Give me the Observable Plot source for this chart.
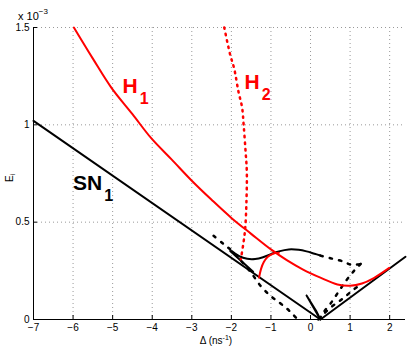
<!DOCTYPE html>
<html><head><meta charset="utf-8">
<script src="https://cdn.jsdelivr.net/npm/d3@7"></script>
<script src="https://cdn.jsdelivr.net/npm/@observablehq/plot@0.6"></script>
<style>html,body{margin:0;padding:0;background:#fff}svg{display:block}</style>
</head><body><div id="chart"></div>
<script>
// ticks
const xTicks = [-7, -6, -5, -4, -3, -2, -1, 0, 1, 2];
const yTicks = [0, 0.5, 1, 1.5];
// curves (Delta in ns^-1, E_i in units of 1e-3)
const sn1 = [[-7, 1.02], [0.25, 0], [2.4, 0.322]];
const sn2 = [[-2.03, 0.352], [-1.75, 0.3], [-1.45, 0.245]];
const wedge = [[-0.1, 0.123], [0.25, 0.0], [0.14, 0.045], [-0.1, 0.123]];
const wavy = [[-1.99, 0.352], [-1.8, 0.325], [-1.6, 0.312], [-1.4, 0.311], [-1.2, 0.32], [-1.0, 0.336], [-0.8, 0.35], [-0.55, 0.36], [-0.3, 0.358], [-0.1, 0.35], [0.1, 0.338], [0.25, 0.329]];
const h1 = [[-5.98, 1.5], [-5.5, 1.34], [-5.03, 1.19], [-4.5, 1.055], [-4.02, 0.93], [-3.5, 0.82], [-3.0, 0.713], [-2.5, 0.615], [-2.0, 0.522], [-1.5, 0.44], [-1.0, 0.36], [-0.6, 0.305], [-0.2, 0.258], [0.25, 0.215], [0.68, 0.18], [1.0, 0.173], [1.3, 0.185], [1.6, 0.213], [1.99, 0.265]];
const h1b = [[-1.3, 0.215], [-1.25, 0.26], [-1.18, 0.295], [-1.08, 0.322], [-0.95, 0.338], [-0.8, 0.343]];
const h2 = [[-2.18, 1.5], [-2.03, 1.36], [-1.93, 1.29], [-1.82, 1.17], [-1.73, 1.09], [-1.69, 1.0], [-1.64, 0.86], [-1.61, 0.76], [-1.62, 0.6], [-1.65, 0.47], [-1.69, 0.4], [-1.76, 0.31]];
const dotC = [[-2.45, 0.43], [-2.2, 0.388], [-2.0, 0.355], [-1.75, 0.3], [-1.5, 0.24], [-1.27, 0.175], [-1.02, 0.123], [-0.8, 0.089], [-0.59, 0.055], [-0.46, 0.029], [-0.34, 0.004]];
const dotA = [[0.25, 0.328], [0.5, 0.315], [0.81, 0.299], [1.0, 0.283], [1.15, 0.282], [1.3, 0.285]];
const dotB = [[1.27, 0.286], [1.1, 0.25], [0.9, 0.2], [0.7, 0.14], [0.5, 0.08], [0.34, 0.04], [0.25, 0.01]];
const dotD = [[0.2, 0.0], [0.5, 0.06], [0.8, 0.105], [1.06, 0.149], [1.2, 0.17]];
// annotations (data coordinates of baseline-left)
const labels = [
  {x: -4.75, y: 1.166, text: "H_1", color: "red"},
  {x: -1.668, y: 1.184, text: "H_2", color: "red"},
  {x: -6.0, y: 0.665, text: "SN_1", color: "black"}
];

const rows = a => a.map(([x, y]) => ({x, y}));
const solid = (a, c, curve = "linear") => Plot.line(rows(a), {x: "x", y: "y", stroke: c, strokeWidth: 2, curve});
const dotted = (a, c, dash) => Plot.line(rows(a), {x: "x", y: "y", stroke: c, strokeWidth: 2.5, strokeDasharray: dash, curve: "catmull-rom"});

const svg = Plot.plot({
  width: 415, height: 355,
  marginLeft: 33, marginRight: 10, marginTop: 27, marginBottom: 36,
  x: {domain: [-7, 2.4]},
  y: {domain: [0, 1.5]},
  style: {fontFamily: "'Liberation Sans', Arial, Helvetica, sans-serif", fontSize: "10px", background: "white", color: "black", overflow: "visible"},
  marks: [
    Plot.gridX(xTicks, {stroke: "#999", strokeOpacity: 1, strokeDasharray: "1,3"}),
    Plot.gridY(yTicks, {stroke: "#999", strokeOpacity: 1, strokeDasharray: "1,3"}),
    Plot.axisX(xTicks, {tickSize: 0, tickPadding: 4, label: null}),
    Plot.axisY(yTicks, {tickSize: 0, tickPadding: 4, label: null, tickFormat: d => String(d)}),
    Plot.tickY(yTicks, {y: d => d, stroke: "black", insetRight: 368}),
    Plot.tickX(xTicks, {x: d => d, stroke: "black", insetTop: 288}),
    solid(sn1, "black"),
    solid(sn2, "black"),
    solid(wedge, "black"),
    solid(wavy, "black", "catmull-rom"),
    dotted(dotC, "black", "2.5,7"),
    dotted(dotA, "black", "2.5,7"),
    dotted(dotB, "black", "2.5,7"),
    dotted(dotD, "black", "2.5,7"),
    solid(h1, "red", "catmull-rom"),
    solid(h1b, "red", "catmull-rom"),
    dotted(h2, "red", "1.5,5"),
    Plot.ruleX([-7], {stroke: "black"}),
    Plot.ruleY([0], {stroke: "black"}),
    Plot.text(labels, {x: "x", y: "y", text: "text", fill: "color", textAnchor: "start", lineAnchor: "bottom", fontSize: 21, fontWeight: "bold"})
  ]
});

const s = d3.select(svg);
s.selectAll("text").each(function () {
  const t = this.textContent;
  if (!t.includes("_")) return;
  const [main, sub] = t.split("_");
  const el = d3.select(this);
  el.text(null);
  el.append("tspan").text(main);
  el.append("tspan").attr("dx", 2).attr("dy", 11).attr("font-size", 16).text(sub);
});
// y label E_i
const yl = s.append("text").attr("transform", "translate(13,178) rotate(-90)").attr("text-anchor", "middle")
  .attr("font-size", 10).attr("fill", "black");
yl.append("tspan").text("E");
yl.append("tspan").attr("font-size", 7).attr("dy", 2).text("i");
// multiplier
const mx = s.append("text").attr("x", 33).attr("y", 20).attr("font-size", 11).attr("fill", "black");
mx.append("tspan").text("x 10");
mx.append("tspan").attr("font-size", 8).attr("dy", -6).text("\u22123");
// x label
const xl = s.append("text").attr("x", 216).attr("y", 344).attr("text-anchor", "middle").attr("font-size", 10).attr("fill", "black");
xl.append("tspan").text("\u0394 (ns");
xl.append("tspan").attr("font-size", 7).attr("dy", -4).text("-1");
xl.append("tspan").attr("dy", 4).text(")");

document.getElementById("chart").appendChild(svg);
</script>
</body></html>
